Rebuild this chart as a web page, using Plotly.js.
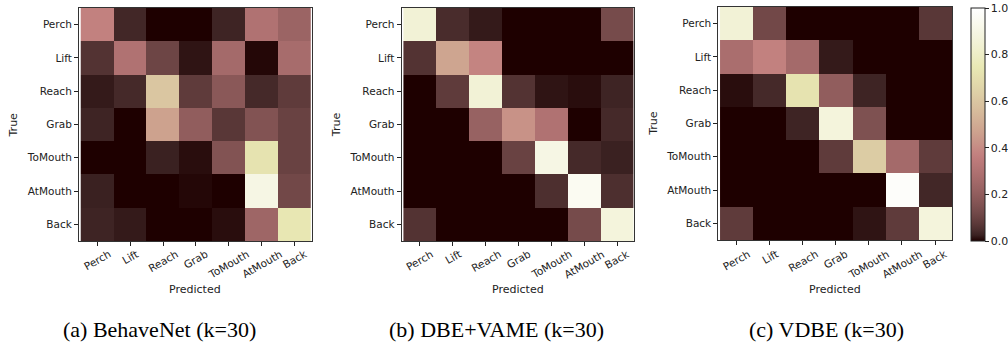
<!DOCTYPE html>
<html>
<head>
<meta charset="utf-8">
<script src="https://cdn.plot.ly/plotly-3.0.1.min.js"></script>
<style>html,body{margin:0;padding:0;background:#fff;}#plot{width:1008px;height:343px;}</style>
</head>
<body>
<div id="plot"></div>
<script>
const labels = ["Perch", "Lift", "Reach", "Grab", "ToMouth", "AtMouth", "Back"];
const captions = ["(a) BehaveNet (k=30)", "(b) DBE+VAME (k=30)", "(c) VDBE (k=30)"];
const cbTicks = [0, 0.2, 0.4, 0.6, 0.8, 1.0];
const cbTickText = ["0.0", "0.2", "0.4", "0.6", "0.8", "1.0"];

const behaveNet = [
  [0.37, 0.035, 0.00, 0.00, 0.03, 0.30, 0.23],
  [0.06, 0.30, 0.11, 0.015, 0.26, 0.005, 0.27],
  [0.02, 0.04, 0.60, 0.08, 0.18, 0.04, 0.08],
  [0.03, 0.00, 0.47, 0.20, 0.07, 0.16, 0.10],
  [0.00, 0.00, 0.025, 0.01, 0.16, 0.72, 0.10],
  [0.025, 0.00, 0.00, 0.005, 0.00, 0.90, 0.12],
  [0.03, 0.02, 0.00, 0.00, 0.01, 0.24, 0.74]
];
const dbeVame = [
  [0.85, 0.045, 0.02, 0.00, 0.00, 0.00, 0.13],
  [0.06, 0.48, 0.38, 0.00, 0.00, 0.00, 0.00],
  [0.00, 0.08, 0.85, 0.06, 0.015, 0.01, 0.03],
  [0.00, 0.00, 0.22, 0.42, 0.30, 0.00, 0.04],
  [0.00, 0.00, 0.00, 0.10, 0.90, 0.04, 0.025],
  [0.00, 0.00, 0.00, 0.00, 0.05, 0.95, 0.05],
  [0.06, 0.00, 0.00, 0.00, 0.00, 0.13, 0.87]
];
const vdbe = [
  [0.85, 0.12, 0.00, 0.00, 0.00, 0.00, 0.07],
  [0.28, 0.37, 0.26, 0.02, 0.00, 0.00, 0.00],
  [0.01, 0.04, 0.72, 0.20, 0.03, 0.00, 0.00],
  [0.00, 0.00, 0.03, 0.87, 0.15, 0.00, 0.00],
  [0.00, 0.00, 0.00, 0.08, 0.62, 0.26, 0.08],
  [0.00, 0.00, 0.00, 0.00, 0.00, 0.98, 0.035],
  [0.08, 0.00, 0.00, 0.00, 0.015, 0.08, 0.87]
];

// matplotlib "pink" colormap: sqrt((2*gray + hot)/3)
function hot(t) {
  const r = t < 0.365079 ? 0.0416 + (1 - 0.0416) * t / 0.365079 : 1;
  const g = t < 0.365079 ? 0 : (t < 0.746032 ? (t - 0.365079) / (0.746032 - 0.365079) : 1);
  const b = t < 0.746032 ? 0 : (t - 0.746032) / (1 - 0.746032);
  return [r, g, b];
}
const pinkScale = [];
for (let i = 0; i <= 40; i++) {
  const t = i / 40;
  const h = hot(t);
  const c = h.map(v => Math.round(255 * Math.sqrt((2 * t + v) / 3)));
  pinkScale.push([t, `rgb(${c[0]},${c[1]},${c[2]})`]);
}

const W = 1008, H = 343;
const panels = [
  {z: behaveNet, x0: 79, x1: 312, y0: 8, y1: 241, trueX: 14},
  {z: dbeVame, x0: 402, x1: 635, y0: 8, y1: 241, trueX: 337},
  {z: vdbe, x0: 719, x1: 953, y0: 7, y1: 240, trueX: 654}
];
const captionX = [160, 497, 827];

const font = {family: "DejaVu Sans, sans-serif", size: 10.5, color: "#222"};
const data = [];
const layout = {
  width: W, height: H,
  margin: {l: 0, r: 0, t: 0, b: 0},
  paper_bgcolor: "#fff", plot_bgcolor: "#fff",
  showlegend: false,
  font: font,
  annotations: []
};

panels.forEach((p, i) => {
  const n = i === 0 ? "" : String(i + 1);
  data.push({
    type: "heatmap",
    z: p.z, x: labels, y: labels,
    xaxis: "x" + n, yaxis: "y" + n,
    colorscale: pinkScale, zmin: 0, zmax: 1,
    showscale: i === 2,
    colorbar: i === 2 ? {
      x: 971 / W, xanchor: "left", xpad: 0, ypad: 0,
      thickness: 14, thicknessmode: "pixels",
      len: 233, lenmode: "pixels",
      y: 1 - 124.5 / H, yanchor: "middle",
      outlinewidth: 1, outlinecolor: "#222",
      tickmode: "array",
      tickvals: cbTicks,
      ticktext: cbTickText,
      ticklabeloverflow: "allow",
      ticks: "outside", ticklen: 3.5, tickcolor: "#222",
      tickfont: {family: "DejaVu Sans, sans-serif", size: 11, color: "#222"}
    } : undefined,
    hoverinfo: "skip"
  });
  layout["xaxis" + n] = {
    domain: [p.x0 / W, p.x1 / W],
    anchor: "y" + n,
    type: "category",
    showticklabels: false,
    ticks: "outside", ticklen: 4, tickcolor: "#222",
    showline: true, mirror: true, linecolor: "#333", linewidth: 1,
    showgrid: false, zeroline: false, fixedrange: true
  };
  layout["yaxis" + n] = {
    domain: [1 - p.y1 / H, 1 - p.y0 / H],
    anchor: "x" + n,
    type: "category",
    autorange: "reversed",
    ticks: "outside", ticklen: 4, tickcolor: "#222",
    tickfont: font,
    showline: true, mirror: true, linecolor: "#333", linewidth: 1,
    showgrid: false, zeroline: false, fixedrange: true
  };
  labels.forEach(lab => {
    layout.annotations.push({
      xref: "x" + n, yref: "paper",
      x: lab, y: 1 - 245 / H,
      xanchor: "center", yanchor: "top",
      text: lab, textangle: -30, showarrow: false,
      font: font
    });
  });
  layout.annotations.push({
    xref: "paper", yref: "paper",
    x: (p.x0 + p.x1) / 2 / W, y: 1 - 289 / H,
    xanchor: "center", yanchor: "middle",
    text: "Predicted", showarrow: false,
    font: {family: "DejaVu Sans, sans-serif", size: 11, color: "#222"}
  });
  layout.annotations.push({
    xref: "paper", yref: "paper",
    x: p.trueX / W, y: 1 - ((p.y0 + p.y1) / 2) / H,
    xanchor: "center", yanchor: "middle",
    text: "True", textangle: -90, showarrow: false,
    font: {family: "DejaVu Sans, sans-serif", size: 11, color: "#222"}
  });
  layout.annotations.push({
    xref: "paper", yref: "paper",
    x: captionX[i] / W, y: 1 - 329 / H,
    xanchor: "center", yanchor: "middle",
    text: captions[i], showarrow: false,
    font: {family: "Liberation Serif, Times New Roman, serif", size: 22, color: "#000"}
  });
});

Plotly.newPlot("plot", data, layout, {staticPlot: true, displayModeBar: false});
</script>
</body>
</html>
